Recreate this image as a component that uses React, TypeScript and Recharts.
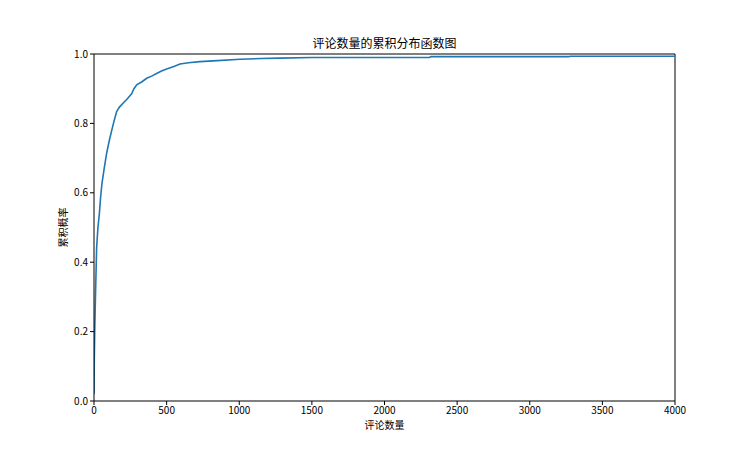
import { LineChart, Line, XAxis, YAxis, ReferenceLine } from 'recharts';

// 评论数量 (x) 与累积概率 (y)
const commentCounts = [
  0, 2, 5, 10, 18, 27, 37, 46, 55, 70, 87, 105, 122, 140, 156, 175, 200, 225,
  259, 275, 294, 330, 363, 400, 431, 465, 500, 550, 592, 650, 730, 850, 1005,
  1150, 1280, 1500, 1800, 2310, 2320, 3270, 3280, 4000,
];
const cumulativeProb = [
  0.02, 0.12, 0.2, 0.3, 0.44, 0.5, 0.54, 0.59, 0.627, 0.67, 0.714, 0.75, 0.78,
  0.81, 0.834, 0.847, 0.858, 0.869, 0.885, 0.9, 0.911, 0.92, 0.93, 0.937,
  0.944, 0.951, 0.957, 0.964, 0.971, 0.975, 0.978, 0.981, 0.985, 0.987, 0.988,
  0.99, 0.99, 0.99, 0.9925, 0.9925, 0.9935, 0.9935,
];
const xTicks = [0, 500, 1000, 1500, 2000, 2500, 3000, 3500, 4000];
const yTicks = [0, 0.2, 0.4, 0.6, 0.8, 1.0];

const data = commentCounts.map((x, i) => ({ x, y: cumulativeProb[i] }));

const FONT = '"Noto Sans CJK SC", sans-serif';
const tickStyle = { fontSize: 10, fill: '#000', fontFamily: FONT };

export default function App() {
  return (
    <div style={{ position: 'absolute', left: 0, top: 0, width: 750, height: 450, background: '#fff' }}>
      <LineChart
        width={750}
        height={450}
        data={data}
        margin={{ top: 54, right: 75, bottom: 19, left: 54 }}
      >
        <text x={384.5} y={48} textAnchor="middle" fontSize={12} fontFamily={FONT} fill="#000">
          评论数量的累积分布函数图
        </text>
        <XAxis
          dataKey="x"
          type="number"
          domain={[0, 4000]}
          ticks={xTicks}
          allowDataOverflow
          height={30}
          tickSize={4}
          tick={tickStyle}
          stroke="#000"
          tickLine={{ stroke: '#000' }}
          axisLine={{ stroke: '#000' }}
          label={{ value: '评论数量', position: 'insideBottom', offset: 2, fontSize: 10, fill: '#000', fontFamily: FONT }}
        />
        <YAxis
          type="number"
          domain={[0, 1]}
          ticks={yTicks}
          width={40}
          tickSize={4}
          tick={tickStyle}
          tickFormatter={(v: number) => v.toFixed(1)}
          stroke="#000"
          tickLine={{ stroke: '#000' }}
          axisLine={{ stroke: '#000' }}
          label={{ value: '累积概率', angle: -90, position: 'insideLeft', offset: 9, fontSize: 10, fill: '#000', fontFamily: FONT, style: { textAnchor: 'middle' } }}
        />
        <ReferenceLine y={1} stroke="#000" />
        <ReferenceLine x={4000} stroke="#000" />
        <Line
          dataKey="y"
          type="linear"
          stroke="#1f77b4"
          strokeWidth={1.6}
          dot={false}
          isAnimationActive={false}
        />
      </LineChart>
    </div>
  );
}
